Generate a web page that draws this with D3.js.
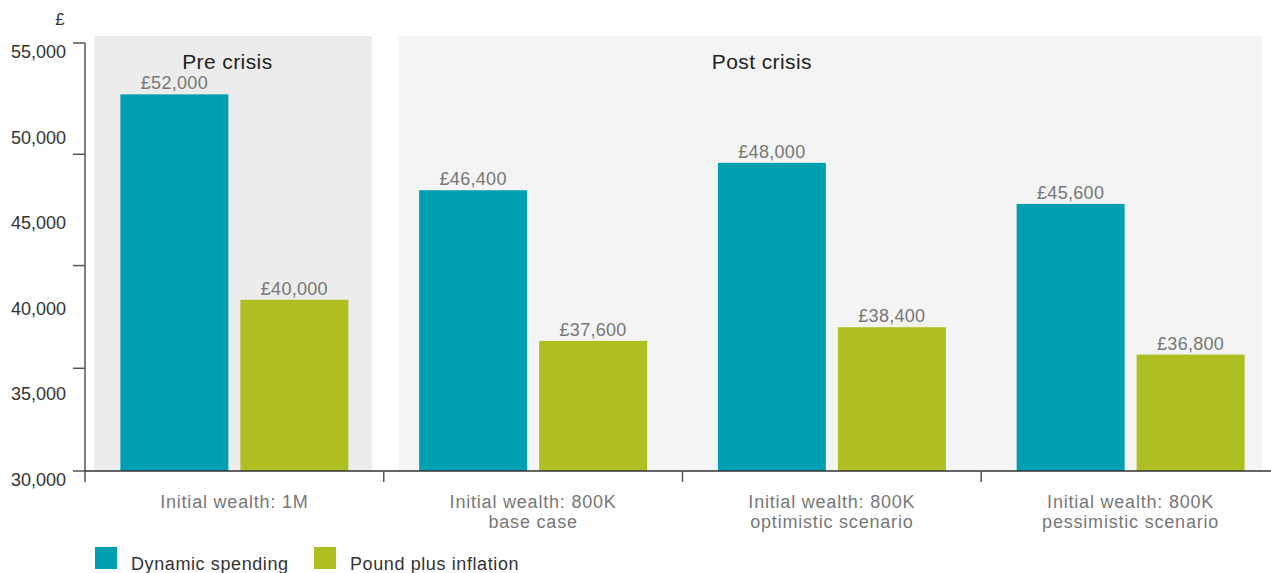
<!DOCTYPE html>
<html>
<head>
<meta charset="utf-8">
<script src="https://cdn.jsdelivr.net/npm/d3@7"></script>
<style>
  body { margin: 0; background: #fff; }
  text { font-family: "Liberation Sans", Arial, sans-serif; }
</style>
</head>
<body>
<div class="chart"></div>
<script>
// data
const groups = ["1M", "800K base", "800K optimistic", "800K pessimistic"]
const groupLabels = [["Initial wealth: 1M"], ["Initial wealth: 800K", "base case"],
                     ["Initial wealth: 800K", "optimistic scenario"], ["Initial wealth: 800K", "pessimistic scenario"]]
const seriesNames = ["Dynamic spending", "Pound plus inflation"]
const dynamicSpending = [52000, 46400, 48000, 45600]
const poundPlusInflation = [40000, 37600, 38400, 36800]
const yTickLabels = [30000, 35000, 40000, 45000, 50000, 55000]
const yTickMarks = [30000, 36000, 42000, 48500, 55000]
const panels = [{name: "Pre crisis", from: 0, to: 0}, {name: "Post crisis", from: 1, to: 3}]

const width = 1271, height = 573
const svg = d3.select(".chart").append("svg").attr("width", width).attr("height", height)
const colours = d3.scaleOrdinal().domain(seriesNames).range(["#009fb1", "#afbf22"])

const x = d3.scaleBand().domain(groups).range([85, 1280])
const xInner = d3.scaleBand().domain(seriesNames).range([0, x.bandwidth()]).paddingInner(0.1).paddingOuter(0.295)
const y = d3.scaleLinear().domain([30000, 55000]).range([471, 43])

// background panels
const panelFill = ["#ececec", "#f4f4f4"]
const titleShift = [-7, -70]
svg.selectAll(".panel").data(panels).enter().append("rect").attr("class", "panel")
   .attr("x", (d, i) => x(groups[d.from]) + (i == 0 ? 9 : 15))
   .attr("width", (d, i) => x(groups[d.to]) + x.bandwidth() - x(groups[d.from]) - (i == 0 ? 21 : 33))
   .attr("y", 36).attr("height", 471 - 36)
   .attr("fill", (d, i) => panelFill[i])
svg.selectAll(".panelTitle").data(panels).enter().append("text").attr("class", "panelTitle")
   .attr("x", (d, i) => (x(groups[d.from]) + x(groups[d.to]) + x.bandwidth()) / 2 + titleShift[i])
   .attr("y", 69).attr("text-anchor", "middle").attr("font-size", "21px").attr("fill", "#222")
   .attr("letter-spacing", "0.4px")
   .text(d => d.name)

// bars
const rows = groups.map((g, i) => ({group: g, values: [dynamicSpending[i], poundPlusInflation[i]]}))
const groupG = svg.selectAll(".grp").data(rows).enter().append("g").attr("class", "grp")
   .attr("transform", d => `translate(${x(d.group)},0)`)
groupG.selectAll("rect").data(d => d.values.map((v, j) => ({name: seriesNames[j], value: v})))
   .enter().append("rect")
   .attr("x", d => xInner(d.name)).attr("width", xInner.bandwidth())
   .attr("y", d => y(d.value)).attr("height", d => y(30000) - y(d.value))
   .attr("fill", d => colours(d.name))
groupG.selectAll(".val").data(d => d.values.map((v, j) => ({name: seriesNames[j], value: v})))
   .enter().append("text").attr("class", "val")
   .attr("x", d => xInner(d.name) + xInner.bandwidth() / 2).attr("y", d => y(d.value) - 5)
   .attr("text-anchor", "middle").attr("font-size", "18px").attr("fill", "#777")
   .attr("letter-spacing", "0.3px")
   .text(d => "£" + d3.format(",")(d.value))

// y axis
const axisColour = "#555"
svg.append("line").attr("x1", 85).attr("x2", 85).attr("y1", 43).attr("y2", 482)
   .attr("stroke", axisColour).attr("stroke-width", 1.5)
svg.selectAll(".ytick").data(yTickMarks).enter().append("line").attr("class", "ytick")
   .attr("x1", 73).attr("x2", 85).attr("y1", d => y(d)).attr("y2", d => y(d))
   .attr("stroke", axisColour).attr("stroke-width", 1.5)
svg.selectAll(".ylab").data(yTickLabels).enter().append("text").attr("class", "ylab")
   .attr("x", 66).attr("y", d => y(d) + 15).attr("text-anchor", "end")
   .attr("font-size", "18px").attr("fill", "#333")
   .text(d => d3.format(",")(d))
svg.append("text").attr("x", 60).attr("y", 25).attr("text-anchor", "middle")
   .attr("font-size", "17px").attr("fill", "#333").text("£")

// x axis
svg.append("line").attr("x1", 85).attr("x2", width).attr("y1", 471).attr("y2", 471)
   .attr("stroke", "#333").attr("stroke-width", 1.5)
svg.selectAll(".xtick").data(groups.slice(1)).enter().append("line").attr("class", "xtick")
   .attr("x1", d => x(d)).attr("x2", d => x(d)).attr("y1", 471).attr("y2", 482)
   .attr("stroke", axisColour).attr("stroke-width", 1.5)
const xlab = svg.selectAll(".xlab").data(groups).enter().append("text").attr("class", "xlab")
   .attr("x", d => x(d) + x.bandwidth() / 2).attr("y", 508).attr("text-anchor", "middle")
   .attr("font-size", "18px").attr("fill", "#777").attr("letter-spacing", "0.8px")
xlab.selectAll("tspan").data((d, i) => groupLabels[i]).enter().append("tspan")
   .attr("x", function() { return this.parentNode.getAttribute("x") })
   .attr("dy", (d, i) => i == 0 ? 0 : 20).text(d => d)

// legend
const legend = svg.selectAll(".legend").data(seriesNames).enter().append("g").attr("class", "legend")
   .attr("transform", (d, i) => `translate(${95 + i * 219},547)`)
legend.append("rect").attr("width", 22).attr("height", 22).attr("fill", d => colours(d))
legend.append("text").attr("x", 36).attr("y", 23).attr("font-size", "18px").attr("fill", "#333")
   .attr("letter-spacing", "0.6px").text(d => d)
</script>
</body>
</html>
